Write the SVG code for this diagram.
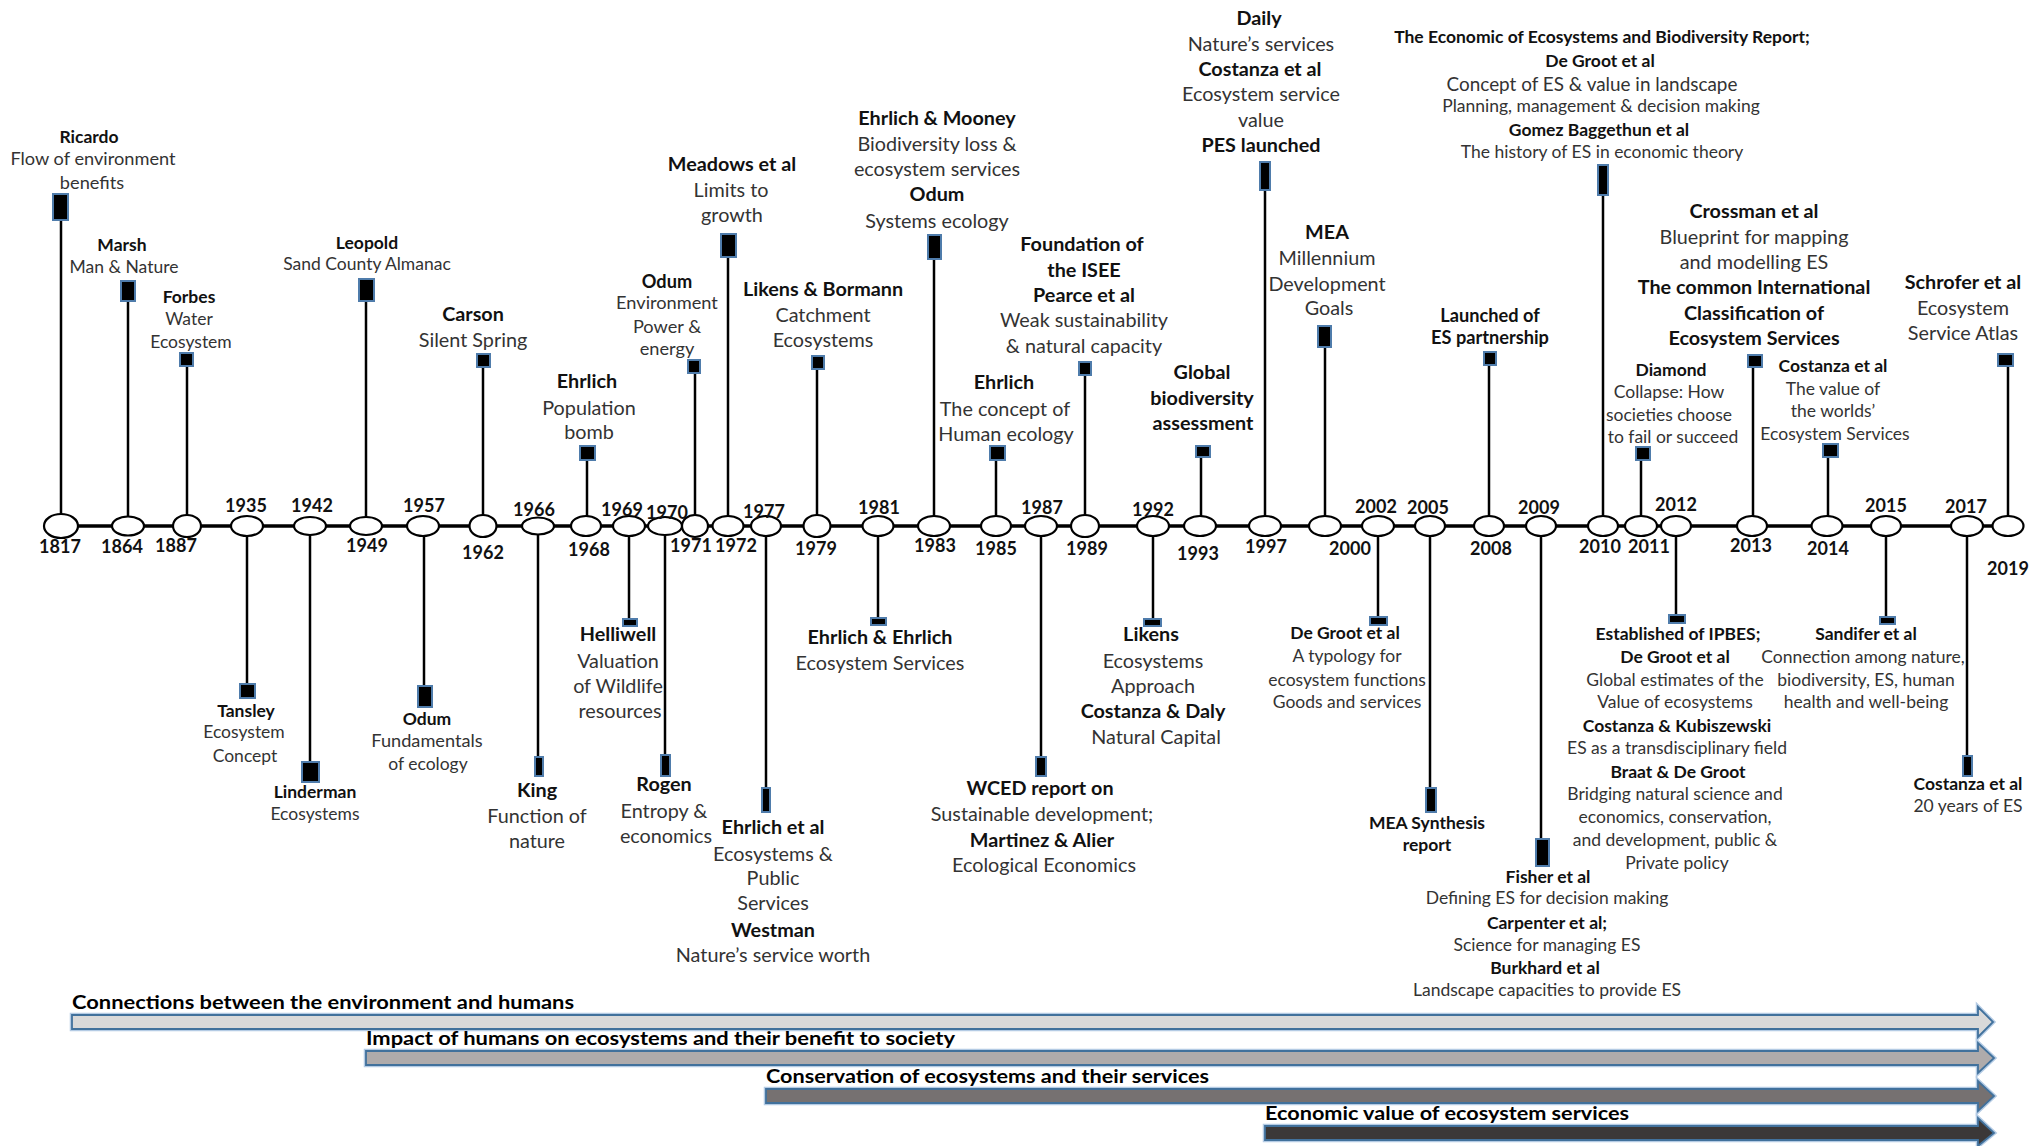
<svg xmlns="http://www.w3.org/2000/svg" width="2031" height="1146" viewBox="0 0 2031 1146">
<style>
text{font-family:Lato,"Liberation Sans",sans-serif;text-anchor:middle}
.t{font-size:17.5px;fill:#333}
.b{font-size:17.5px;font-weight:bold;fill:#111}
.T{font-size:19.8px;fill:#333}
.B{font-size:19.8px;font-weight:bold;fill:#111}
.m{font-size:18.2px}
.y{font-size:18px;font-weight:bold;fill:#111}
.e{fill:#fff;stroke:#000;stroke-width:2.2}
.bx{fill:#000;stroke:#4f7cab;stroke-width:2}
.ax{stroke:#000;stroke-width:3.5;fill:none}
.st{stroke:#000;stroke-width:2.5;fill:none}
.ph{font-size:19px;font-weight:bold;fill:#000;text-anchor:start}
.halo{fill:none;stroke:#b4cbe4;stroke-width:4.5;stroke-linejoin:miter}
.ar{stroke:#41719c;stroke-width:1.8;stroke-linejoin:miter}
</style>
<rect width="2031" height="1146" fill="#fff"/>
<g id="connectors">
<line class="ax" x1="61" y1="526" x2="2008" y2="526"/>
<line class="st" x1="61" y1="514" x2="61" y2="221"/>
<line class="st" x1="128" y1="517" x2="128" y2="302"/>
<line class="st" x1="187" y1="515" x2="187" y2="367"/>
<line class="st" x1="247" y1="536" x2="247" y2="683"/>
<line class="st" x1="310" y1="535" x2="310" y2="761"/>
<line class="st" x1="366" y1="517" x2="366" y2="302"/>
<line class="st" x1="424" y1="536" x2="424" y2="685"/>
<line class="st" x1="483" y1="515" x2="483" y2="368"/>
<line class="st" x1="538" y1="534" x2="538" y2="756"/>
<line class="st" x1="587" y1="516" x2="587" y2="461"/>
<line class="st" x1="629" y1="536" x2="629" y2="618"/>
<line class="st" x1="665" y1="535" x2="665" y2="754"/>
<line class="st" x1="695" y1="515" x2="695" y2="374"/>
<line class="st" x1="728" y1="516" x2="728" y2="258"/>
<line class="st" x1="766" y1="536" x2="766" y2="787"/>
<line class="st" x1="817" y1="515" x2="817" y2="370"/>
<line class="st" x1="878" y1="536" x2="878" y2="617"/>
<line class="st" x1="934" y1="516" x2="934" y2="260"/>
<line class="st" x1="996" y1="516" x2="996" y2="461"/>
<line class="st" x1="1041" y1="536" x2="1041" y2="756"/>
<line class="st" x1="1085" y1="515" x2="1085" y2="376"/>
<line class="st" x1="1153" y1="536" x2="1153" y2="618"/>
<line class="st" x1="1201" y1="516" x2="1201" y2="458"/>
<line class="st" x1="1265" y1="516" x2="1265" y2="191"/>
<line class="st" x1="1325" y1="516" x2="1325" y2="348"/>
<line class="st" x1="1378" y1="536" x2="1378" y2="616"/>
<line class="st" x1="1430" y1="536" x2="1430" y2="787"/>
<line class="st" x1="1489" y1="516" x2="1489" y2="366"/>
<line class="st" x1="1541" y1="536" x2="1541" y2="838"/>
<line class="st" x1="1603" y1="516" x2="1603" y2="196"/>
<line class="st" x1="1641" y1="516" x2="1641" y2="461"/>
<line class="st" x1="1676" y1="536" x2="1676" y2="614"/>
<line class="st" x1="1753" y1="516" x2="1753" y2="368"/>
<line class="st" x1="1828" y1="516" x2="1828" y2="458"/>
<line class="st" x1="1886" y1="536" x2="1886" y2="616"/>
<line class="st" x1="1967" y1="536" x2="1967" y2="755"/>
<line class="st" x1="2008" y1="516" x2="2008" y2="367"/>
</g>
<g id="n1817"><ellipse class="e" cx="61" cy="526" rx="17" ry="12"/><rect class="bx" x="53" y="194" width="15" height="26"/><text class="y" x="60" y="553">1817</text><text class="b" x="89" y="143">Ricardo</text><text class="t m" x="93" y="165">Flow of environment</text><text class="t m" x="92" y="189">benefits</text></g>
<g id="n1864"><ellipse class="e" cx="128" cy="526" rx="16" ry="9.5"/><rect class="bx" x="121" y="281" width="14" height="20"/><text class="y" x="122" y="553">1864</text><text class="b" x="122" y="251">Marsh</text><text class="t" x="124" y="273">Man &amp; Nature</text></g>
<g id="n1887"><ellipse class="e" cx="187" cy="526" rx="14" ry="11"/><rect class="bx" x="180" y="353" width="13" height="13"/><text class="y" x="176" y="552">1887</text><text class="b" x="189" y="303">Forbes</text><text class="t" x="189" y="325">Water</text><text class="t" x="191" y="348">Ecosystem</text></g>
<g id="n1935"><ellipse class="e" cx="247" cy="526" rx="16" ry="10"/><rect class="bx" x="240" y="684" width="15" height="14"/><text class="y" x="246" y="512">1935</text><text class="b" x="246" y="717">Tansley</text><text class="t" x="244" y="738">Ecosystem</text><text class="t" x="245" y="762">Concept</text></g>
<g id="n1942"><ellipse class="e" cx="310" cy="526" rx="16" ry="9"/><rect class="bx" x="302" y="762" width="17" height="20"/><text class="y" x="312" y="512">1942</text><text class="b" x="315" y="798">Linderman</text><text class="t" x="315" y="820">Ecosystems</text></g>
<g id="n1949"><ellipse class="e" cx="366" cy="526" rx="16" ry="9"/><rect class="bx" x="359" y="279" width="15" height="22"/><text class="y" x="367" y="552">1949</text><text class="b" x="367" y="249">Leopold</text><text class="t" x="367" y="270">Sand County Almanac</text></g>
<g id="n1957"><ellipse class="e" cx="423" cy="526" rx="16" ry="10"/><rect class="bx" x="418" y="686" width="14" height="21"/><text class="y" x="424" y="512">1957</text><text class="b" x="427" y="725">Odum</text><text class="t m" x="427" y="747">Fundamentals</text><text class="t" x="428" y="770">of ecology</text></g>
<g id="n1962"><ellipse class="e" cx="483" cy="526" rx="13.5" ry="11"/><rect class="bx" x="477" y="354" width="13" height="13"/><text class="y" x="483" y="559">1962</text><text class="B" x="473" y="321">Carson</text><text class="T" x="473" y="347">Silent Spring</text></g>
<g id="n1966"><ellipse class="e" cx="538" cy="526" rx="16" ry="8.5"/><rect class="bx" x="535" y="757" width="8" height="19"/><text class="y" x="534" y="516">1966</text><text class="B" x="537" y="797">King</text><text class="T" x="537" y="823">Function of</text><text class="T" x="537" y="848">nature</text></g>
<g id="n1968"><ellipse class="e" cx="586" cy="526" rx="15" ry="10"/><rect class="bx" x="580" y="446" width="15" height="14"/><text class="y" x="589" y="556">1968</text><text class="B" x="587" y="388">Ehrlich</text><text class="T" x="589" y="415">Population</text><text class="T" x="589" y="439">bomb</text></g>
<g id="n1969"><ellipse class="e" cx="629" cy="526" rx="16" ry="10"/><rect class="bx" x="623" y="619" width="14" height="7"/><text class="y" x="622" y="516">1969</text><text class="B" x="618" y="641">Helliwell</text><text class="T" x="618" y="668">Valuation</text><text class="T" x="618" y="693">of Wildlife</text><text class="T" x="620" y="718">resources</text></g>
<g id="n1970"><ellipse class="e" cx="665" cy="526" rx="17" ry="9"/><rect class="bx" x="661" y="755" width="9" height="21"/><text class="y" x="667" y="519">1970</text><text class="B" x="664" y="791">Rogen</text><text class="T" x="664" y="818">Entropy &amp;</text><text class="T" x="666" y="843">economics</text></g>
<g id="n1971"><ellipse class="e" cx="695" cy="526" rx="13" ry="11"/><rect class="bx" x="688" y="360" width="12" height="13"/><text class="y" x="691" y="552">1971</text><text class="b m" x="667" y="288">Odum</text><text class="t m" x="667" y="309">Environment</text><text class="t m" x="667" y="333">Power &amp;</text><text class="t m" x="667" y="355">energy</text></g>
<g id="n1972"><ellipse class="e" cx="728" cy="526" rx="15.5" ry="10"/><rect class="bx" x="721" y="234" width="15" height="23"/><text class="y" x="736" y="552">1972</text><text class="B" x="732" y="171">Meadows et al</text><text class="T" x="731" y="197">Limits to</text><text class="T" x="732" y="222">growth</text></g>
<g id="n1977"><ellipse class="e" cx="766" cy="526" rx="15" ry="10"/><rect class="bx" x="762" y="788" width="8" height="24"/><text class="y" x="764" y="518">1977</text><text class="B" x="773" y="834">Ehrlich et al</text><text class="T" x="773" y="861">Ecosystems &amp;</text><text class="T" x="773" y="885">Public</text><text class="T" x="773" y="910">Services</text><text class="B" x="773" y="937">Westman</text><text class="T" x="773" y="962">Nature’s service worth</text></g>
<g id="n1979"><ellipse class="e" cx="817" cy="526" rx="13.5" ry="11"/><rect class="bx" x="812" y="356" width="12" height="13"/><text class="y" x="816" y="555">1979</text><text class="B" x="823" y="296">Likens &amp; Bormann</text><text class="T" x="823" y="322">Catchment</text><text class="T" x="823" y="347">Ecosystems</text></g>
<g id="n1981"><ellipse class="e" cx="878" cy="526" rx="15.5" ry="10"/><rect class="bx" x="871" y="618" width="15" height="7"/><text class="y" x="879" y="514">1981</text><text class="B" x="880" y="644">Ehrlich &amp; Ehrlich</text><text class="T" x="880" y="670">Ecosystem Services</text></g>
<g id="n1983"><ellipse class="e" cx="934" cy="526" rx="16" ry="10"/><rect class="bx" x="928" y="235" width="13" height="24"/><text class="y" x="935" y="552">1983</text><text class="B" x="937" y="125">Ehrlich &amp; Mooney</text><text class="T" x="937" y="151">Biodiversity loss &amp;</text><text class="T" x="937" y="176">ecosystem services</text><text class="B" x="937" y="201">Odum</text><text class="T" x="937" y="228">Systems ecology</text></g>
<g id="n1985"><ellipse class="e" cx="996" cy="526" rx="15" ry="10"/><rect class="bx" x="990" y="446" width="15" height="14"/><text class="y" x="996" y="555">1985</text><text class="B" x="1004" y="389">Ehrlich</text><text class="T" x="1005" y="416">The concept of</text><text class="T" x="1006" y="441">Human ecology</text></g>
<g id="n1987"><ellipse class="e" cx="1041" cy="526" rx="16" ry="10"/><rect class="bx" x="1036" y="757" width="10" height="19"/><text class="y" x="1042" y="514">1987</text><text class="B" x="1040" y="795">WCED report on</text><text class="T" x="1042" y="821">Sustainable development;</text><text class="B" x="1042" y="847">Martinez &amp; Alier</text><text class="T" x="1044" y="872">Ecological Economics</text></g>
<g id="n1989"><ellipse class="e" cx="1085" cy="526" rx="14" ry="11"/><rect class="bx" x="1079" y="362" width="12" height="13"/><text class="y" x="1087" y="555">1989</text><text class="B" x="1082" y="251">Foundation of</text><text class="B" x="1084" y="277">the ISEE</text><text class="B" x="1084" y="302">Pearce et al</text><text class="T" x="1084" y="327">Weak sustainability</text><text class="T" x="1084" y="353">&amp; natural capacity</text></g>
<g id="n1992"><ellipse class="e" cx="1153" cy="526" rx="16" ry="10"/><rect class="bx" x="1144" y="619" width="17" height="7"/><text class="y" x="1153" y="516">1992</text><text class="B" x="1151" y="641">Likens</text><text class="T" x="1153" y="668">Ecosystems</text><text class="T" x="1153" y="693">Approach</text><text class="B" x="1153" y="718">Costanza &amp; Daly</text><text class="T" x="1156" y="744">Natural Capital</text></g>
<g id="n1993"><ellipse class="e" cx="1200" cy="526" rx="16" ry="10"/><rect class="bx" x="1196" y="446" width="14" height="11"/><text class="y" x="1198" y="560">1993</text><text class="B" x="1202" y="379">Global</text><text class="B" x="1202" y="405">biodiversity</text><text class="B" x="1203" y="430">assessment</text></g>
<g id="n1997"><ellipse class="e" cx="1265" cy="526" rx="16" ry="10"/><rect class="bx" x="1260" y="162" width="10" height="28"/><text class="y" x="1266" y="553">1997</text><text class="B" x="1259" y="25">Daily</text><text class="T" x="1261" y="51">Nature’s services</text><text class="B" x="1260" y="76">Costanza et al</text><text class="T" x="1261" y="101">Ecosystem service</text><text class="T" x="1261" y="127">value</text><text class="B" x="1261" y="152">PES launched</text></g>
<g id="n2000"><ellipse class="e" cx="1325" cy="526" rx="16" ry="10"/><rect class="bx" x="1318" y="326" width="13" height="21"/><text class="y" x="1350" y="555">2000</text><text class="B" x="1327" y="239">MEA</text><text class="T" x="1327" y="265">Millennium</text><text class="T" x="1327" y="291">Development</text><text class="T" x="1329" y="315">Goals</text></g>
<g id="n2002"><ellipse class="e" cx="1378" cy="526" rx="16" ry="10"/><rect class="bx" x="1370" y="617" width="17" height="8"/><text class="y" x="1376" y="513">2002</text><text class="b" x="1345" y="639">De Groot et al</text><text class="t" x="1347" y="662">A typology for</text><text class="t" x="1347" y="686">ecosystem functions</text><text class="t" x="1347" y="708">Goods and services</text></g>
<g id="n2005"><ellipse class="e" cx="1430" cy="526" rx="15" ry="10"/><rect class="bx" x="1426" y="788" width="10" height="24"/><text class="y" x="1428" y="514">2005</text><text class="b" x="1427" y="829">MEA Synthesis</text><text class="b" x="1427" y="851">report</text></g>
<g id="n2008"><ellipse class="e" cx="1489" cy="526" rx="15" ry="10"/><rect class="bx" x="1484" y="352" width="12" height="13"/><text class="y" x="1491" y="555">2008</text><text class="b m" x="1490" y="322">Launched of</text><text class="b m" x="1490" y="344">ES partnership</text></g>
<g id="n2009"><ellipse class="e" cx="1541" cy="526" rx="15" ry="10"/><rect class="bx" x="1536" y="839" width="13" height="27"/><text class="y" x="1539" y="514">2009</text><text class="b" x="1548" y="883">Fisher et al</text><text class="t" x="1547" y="904">Defining ES for decision making</text><text class="b" x="1547" y="929">Carpenter et al;</text><text class="t" x="1547" y="951">Science for managing ES</text><text class="b" x="1545" y="974">Burkhard et al</text><text class="t" x="1547" y="996">Landscape capacities to provide ES</text></g>
<g id="n2010"><ellipse class="e" cx="1603" cy="526" rx="15" ry="10"/><rect class="bx" x="1598" y="165" width="10" height="30"/><text class="y" x="1600" y="553">2010</text><text class="b" x="1602" y="43">The Economic of Ecosystems and Biodiversity Report;</text><text class="b" x="1600" y="67">De Groot et al</text><text class="t" x="1592" y="91" style="font-size:18.9px">Concept of ES &amp; value in landscape</text><text class="t" x="1601" y="112">Planning, management &amp; decision making</text><text class="b" x="1599" y="136">Gomez Baggethun et al</text><text class="t" x="1602" y="158">The history of ES in economic theory</text></g>
<g id="n2011"><ellipse class="e" cx="1641" cy="526" rx="16" ry="10"/><rect class="bx" x="1636" y="447" width="14" height="13"/><text class="y" x="1649" y="553">2011</text><text class="b" x="1671" y="376">Diamond</text><text class="t" x="1669" y="398">Collapse: How</text><text class="t" x="1669" y="421">societies choose</text><text class="t" x="1673" y="443">to fail or succeed</text></g>
<g id="n2012"><ellipse class="e" cx="1676" cy="526" rx="15" ry="10"/><rect class="bx" x="1669" y="615" width="16" height="8"/><text class="y" x="1676" y="511">2012</text><text class="b" x="1678" y="640">Established of IPBES;</text><text class="b" x="1675" y="663">De Groot et al</text><text class="t" x="1675" y="686">Global estimates of the</text><text class="t" x="1675" y="708">Value of ecosystems</text><text class="b" x="1677" y="732">Costanza &amp; Kubiszewski</text><text class="t" x="1677" y="754">ES as a transdisciplinary field</text><text class="b" x="1678" y="778">Braat &amp; De Groot</text><text class="t" x="1675" y="800">Bridging natural science and</text><text class="t" x="1675" y="823">economics, conservation,</text><text class="t" x="1675" y="846">and development, public &amp;</text><text class="t" x="1677" y="869">Private policy</text></g>
<g id="n2013"><ellipse class="e" cx="1752" cy="526" rx="15" ry="10"/><rect class="bx" x="1748" y="355" width="14" height="12"/><text class="y" x="1751" y="552">2013</text><text class="B" x="1754" y="218">Crossman et al</text><text class="T" x="1754" y="244">Blueprint for mapping</text><text class="T" x="1754" y="269">and modelling ES</text><text class="B" x="1754" y="294">The common International</text><text class="B" x="1754" y="320">Classification of</text><text class="B" x="1754" y="345">Ecosystem Services</text></g>
<g id="n2014"><ellipse class="e" cx="1827" cy="526" rx="15.5" ry="10"/><rect class="bx" x="1823" y="444" width="15" height="13"/><text class="y" x="1828" y="555">2014</text><text class="b" x="1833" y="372">Costanza et al</text><text class="t" x="1833" y="395">The value of</text><text class="t" x="1833" y="417">the worlds’</text><text class="t" x="1835" y="440">Ecosystem Services</text></g>
<g id="n2015"><ellipse class="e" cx="1886" cy="526" rx="15" ry="10"/><rect class="bx" x="1880" y="617" width="15" height="7"/><text class="y" x="1886" y="512">2015</text><text class="b" x="1866" y="640">Sandifer et al</text><text class="t" x="1863" y="663">Connection among nature,</text><text class="t" x="1866" y="686">biodiversity, ES, human</text><text class="t" x="1866" y="708">health and well-being</text></g>
<g id="n2017"><ellipse class="e" cx="1967" cy="526" rx="16" ry="10"/><rect class="bx" x="1963" y="756" width="9" height="20"/><text class="y" x="1966" y="513">2017</text><text class="b" x="1968" y="790">Costanza et al</text><text class="t" x="1968" y="812">20 years of ES</text></g>
<g id="n2019"><ellipse class="e" cx="2008" cy="526" rx="15.5" ry="10"/><rect class="bx" x="1998" y="354" width="15" height="12"/><text class="y" x="2008" y="575">2019</text><text class="B" x="1963" y="289">Schrofer et al</text><text class="T" x="1963" y="315">Ecosystem</text><text class="T" x="1963" y="340">Service Atlas</text></g>
<g id="phase1"><polygon class="halo" points="72,1015 1978,1015 1978,1007 1993,1022 1978,1037 1978,1029 72,1029"/><polygon class="ar" fill="#d9d9d9" points="72,1015 1978,1015 1978,1007 1993,1022 1978,1037 1978,1029 72,1029"/><text class="ph" x="72" y="1009" textLength="502" lengthAdjust="spacingAndGlyphs">Connections between the environment and humans</text></g>
<g id="phase2"><polygon class="halo" points="366,1051 1978,1051 1978,1043 1994,1058 1978,1073 1978,1065 366,1065"/><polygon class="ar" fill="#afabab" points="366,1051 1978,1051 1978,1043 1994,1058 1978,1073 1978,1065 366,1065"/><text class="ph" x="366" y="1045" textLength="589" lengthAdjust="spacingAndGlyphs">Impact of humans on ecosystems and their benefit to society</text></g>
<g id="phase3"><polygon class="halo" points="766,1089 1978,1089 1978,1081 1994,1096 1978,1111 1978,1103 766,1103"/><polygon class="ar" fill="#767171" points="766,1089 1978,1089 1978,1081 1994,1096 1978,1111 1978,1103 766,1103"/><text class="ph" x="766" y="1083" textLength="443" lengthAdjust="spacingAndGlyphs">Conservation of ecosystems and their services</text></g>
<g id="phase4"><polygon class="halo" points="1265,1126 1978,1126 1978,1118 1994,1133 1978,1146 1978,1140 1265,1140"/><polygon class="ar" fill="#3b3838" points="1265,1126 1978,1126 1978,1118 1994,1133 1978,1146 1978,1140 1265,1140"/><text class="ph" x="1265" y="1120" textLength="364" lengthAdjust="spacingAndGlyphs">Economic value of ecosystem services</text></g>
</svg>
